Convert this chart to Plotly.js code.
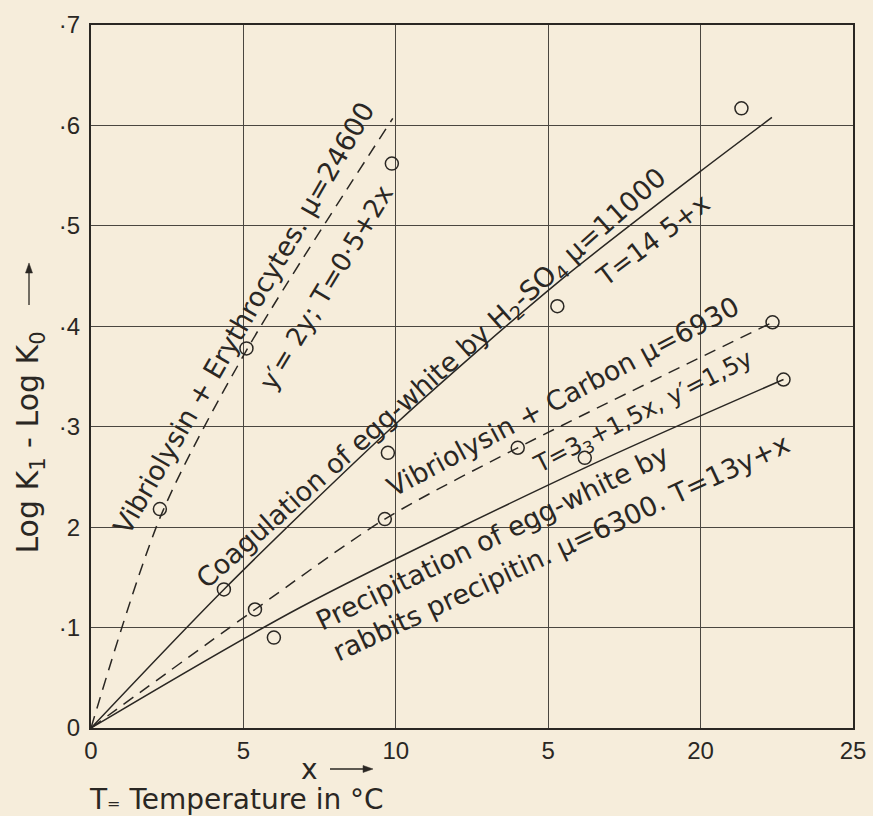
<!DOCTYPE html>
<html>
<head>
<meta charset="utf-8">
<script src="https://cdn.plot.ly/plotly-3.0.1.min.js"></script>
<style>html,body{margin:0;padding:0;background:#f6eddb;}#chart{width:873px;height:816px;}</style>
</head>
<body>
<div id="chart"></div>
<script>
// ---- data ----
const xTickVals = [0, 5, 10, 15, 20, 25];
const xTickText = ["0", "5", "10", "5", "20", "25"];
const yTickVals = [0, 0.1, 0.2, 0.3, 0.4, 0.5, 0.6, 0.7];
const yTickText = ["0", "·1", "2", "·3", "·4", "·5", "·6", "·7"];

// Vibriolysin + Erythrocytes (observed points and drawn line path)
const eryX = [2.26, 5.1, 9.87];
const eryY = [0.218, 0.378, 0.562];
const eryLineX = [0, 2.3, 5.1, 9.9];
const eryLineY = [0, 0.212, 0.376, 0.607];

// Coagulation of egg-white by H2SO4
const coagX = [4.36, 9.74, 15.3, 21.34];
const coagY = [0.138, 0.274, 0.42, 0.617];
const coagLineX = [0, 4.36, 10.04, 15.29, 19.98, 22.34];
const coagLineY = [0, 0.138, 0.304, 0.443, 0.554, 0.608];

// Vibriolysin + Carbon
const carbX = [5.38, 9.64, 14.0, 22.36];
const carbY = [0.118, 0.208, 0.279, 0.404];
const carbLineX = [0, 5.38, 9.64, 14.0, 22.36];
const carbLineY = [0, 0.118, 0.208, 0.279, 0.404];

// Precipitation of egg-white by rabbits precipitin
const precX = [6.0, 16.2, 22.72];
const precY = [0.09, 0.269, 0.347];
const precLineX = [0, 6.86, 16.2, 22.72];
const precLineY = [0, 0.12, 0.259, 0.347];

// ---- styling ----
const ink = '#2a2723';
const font = 'Liberation Sans, Arial, sans-serif';
const lfont = 'DejaVu Sans, sans-serif';
const mk = {symbol: 'circle-open', size: 13, color: ink, line: {width: 1.5, color: ink}};

function pts(x, y) {
  return {x: x, y: y, type: 'scatter', mode: 'markers', marker: mk, hoverinfo: 'skip', showlegend: false, cliponaxis: false};
}
function ln(x, y, dash) {
  return {x: x, y: y, type: 'scatter', mode: 'lines', line: {color: ink, width: 1.5, dash: dash, shape: 'spline', smoothing: 0.8},
          hoverinfo: 'skip', showlegend: false};
}

const traces = [
  ln(eryLineX, eryLineY, '12px,8px'), pts(eryX, eryY),
  ln(coagLineX, coagLineY, 'solid'), pts(coagX, coagY),
  ln(carbLineX, carbLineY, '12px,8px'), pts(carbX, carbY),
  ln(precLineX, precLineY, 'solid'), pts(precX, precY)
];

function lab(text, x, y, ang, size) {
  return {text: text, x: x, y: y, xref: 'x', yref: 'y', textangle: ang, showarrow: false,
          xanchor: 'center', yanchor: 'middle', font: {family: lfont, size: size || 27, color: ink}};
}

const annotations = [
  lab('Vibriolysin + Erythrocytes. μ=24600', 5.0, 0.408, -60, 27),
  lab('y′= 2y; T=0·5+2x', 7.71, 0.438, -59, 26),
  lab('Coagulation of egg-white by H<sub>2</sub>-SO<sub>4</sub> μ=11000', 11.19, 0.347, -41.6, 27),
  lab('T=14 5+x', 18.44, 0.486, -37, 26),
  lab('Vibriolysin + Carbon μ=6930', 15.49, 0.330, -28, 27),
  lab('T=3<sub>3</sub>+1,5x, y′=1,5y', 18.15, 0.3137, -27, 24),
  lab('Precipitation of egg-white by', 13.16, 0.190, -26, 27),
  lab('rabbits precipitin. μ=6300. T=13y+x', 15.42, 0.180, -25, 27),
  // axis titles
  {text: 'Log K<sub>1</sub> - Log K<sub>0</sub>', xref: 'paper', yref: 'paper', x: -0.080, y: 0.4060,
   textangle: -90, showarrow: false, xanchor: 'center', yanchor: 'middle', font: {family: lfont, size: 30, color: ink}},
  {text: 'x', xref: 'paper', yref: 'paper', x: 0.2874, y: -0.0597, showarrow: false,
   xanchor: 'center', yanchor: 'middle', font: {family: lfont, size: 28, color: ink}},
  {text: 'T<span style="font-size:16px">=</span> Temperature in °C', xref: 'paper', yref: 'paper', x: 0.1916, y: -0.1024,
   showarrow: false, xanchor: 'center', yanchor: 'middle', font: {family: lfont, size: 28, color: ink}}
];

// small arrows beside the axis titles
const shapes = [
  {type: 'line', xref: 'paper', yref: 'paper', x0: -0.08136, x1: -0.08136, y0: 0.6017, y1: 0.6515,
   line: {color: ink, width: 1.3}},
  {type: 'path', xref: 'paper', yref: 'paper', path: 'M -0.08136,0.6615 L -0.08596,0.6472 L -0.07677,0.6472 Z',
   fillcolor: ink, line: {color: ink, width: 0.5}},
  {type: 'line', xref: 'paper', yref: 'paper', x0: 0.3136, x1: 0.3609, y0: -0.05832, y1: -0.05832,
   line: {color: ink, width: 1.3}},
  {type: 'path', xref: 'paper', yref: 'paper', path: 'M 0.3701,-0.05832 L 0.3570,-0.05334 L 0.3570,-0.06330 Z',
   fillcolor: ink, line: {color: ink, width: 0.5}}
];

const layout = {
  width: 873, height: 816,
  paper_bgcolor: '#f6eddb', plot_bgcolor: '#f6eddb',
  margin: {l: 91, r: 20, t: 25, b: 88},
  showlegend: false,
  xaxis: {range: [0, 25], tickvals: xTickVals, ticktext: xTickText, showgrid: true, gridcolor: '#4a4640', gridwidth: 1.2,
          zeroline: false, showline: true, mirror: true, linecolor: ink, linewidth: 2, ticks: '',
          tickfont: {family: font, size: 24, color: ink}, fixedrange: true},
  yaxis: {range: [0, 0.7], tickvals: yTickVals, ticktext: yTickText, showgrid: true, gridcolor: '#4a4640', gridwidth: 1.2,
          zeroline: false, showline: true, mirror: true, linecolor: ink, linewidth: 2, ticks: '',
          tickfont: {family: font, size: 24, color: ink}, ticklabelstandoff: 4, fixedrange: true},
  annotations: annotations,
  shapes: shapes
};

Plotly.newPlot('chart', traces, layout, {staticPlot: true, displayModeBar: false});
</script>
</body>
</html>
